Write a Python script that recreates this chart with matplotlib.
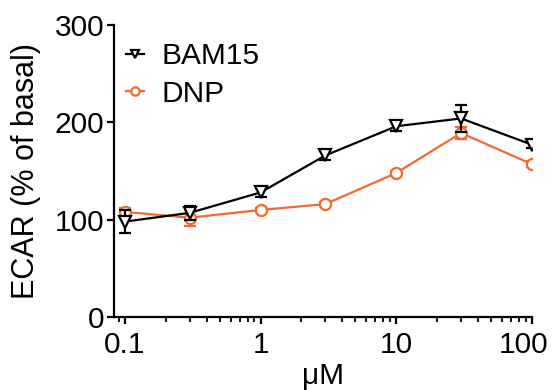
import matplotlib
matplotlib.use("Agg")
import matplotlib.pyplot as plt
import matplotlib.transforms as mtransforms
import numpy as np

plt.rcParams['font.family'] = ['Liberation Sans', 'DejaVu Sans']

conc = [0.1, 0.3, 1, 3, 10, 30, 100]
bam15 = [98, 107, 128, 166, 196, 204, 177]
bam15_err = [12, 7, 5, 5, 5, 14, 3]
dnp = [108, 102, 110, 116, 148, 189, 157]
dnp_err = [4, 8, 2, 2, 2, 6, 3]
xticks = [0.1, 1, 10, 100]
xticklabels = ['0.1', '1', '10', '100']
yticks = [0, 100, 200, 300]

orange = '#F4692F'
FS = 21.5

fig = plt.figure(figsize=(5.53, 3.9), dpi=100)
ax = fig.add_axes([114/553, 1-317/390, (532-114)/553, (317-25)/390])

lw = 1.6
ax.errorbar(conc, bam15, yerr=bam15_err, color='black', fmt='none',
            capsize=4, capthick=lw, elinewidth=lw, zorder=3)
ax.plot(conc, bam15, color='black', marker='v', mfc='white', mec='black',
        ms=8.5, mew=lw, lw=lw, label='BAM15', zorder=3)
ax.errorbar(conc, dnp, yerr=dnp_err, color=orange, fmt='none',
            capsize=4, capthick=lw, elinewidth=lw, zorder=2)
ax.plot(conc, dnp, color=orange, marker='o', mfc='white', mec=orange,
        ms=8, mew=lw, lw=lw, label='DNP', zorder=2)

ax.set_xscale('log')
ax.set_xlim(0.083, 100)
ax.set_ylim(0, 300)
ax.set_xticks(xticks)
ax.set_xticklabels(xticklabels)
ax.set_yticks(yticks)
ax.spines['top'].set_visible(False)
ax.spines['right'].set_visible(False)
for s in ['left', 'bottom']:
    ax.spines[s].set_linewidth(lw)
ax.tick_params(axis='both', which='major', labelsize=FS, width=lw, length=5, pad=2)
ax.tick_params(axis='x', which='major', pad=5)
ax.tick_params(axis='x', which='minor', width=1.3, length=3.5)
ax.set_ylabel('ECAR (% of basal)', fontsize=22, labelpad=9.5)
ax.set_xlabel('μM', fontsize=FS, labelpad=2)

# shift the last x tick label slightly left so it stays inside the figure
last = ax.get_xticklabels()[-1]
last.set_transform(last.get_transform() + mtransforms.ScaledTranslation(-8/100, 0, fig.dpi_scale_trans))

leg = ax.legend(loc='upper left', bbox_to_anchor=(12/418, 1-17/292), frameon=False,
                fontsize=FS, handlelength=0.6, handletextpad=0.6,
                labelspacing=0.32, markerscale=0.75, borderaxespad=0, borderpad=0)

fig.savefig('out.png', dpi=100)
